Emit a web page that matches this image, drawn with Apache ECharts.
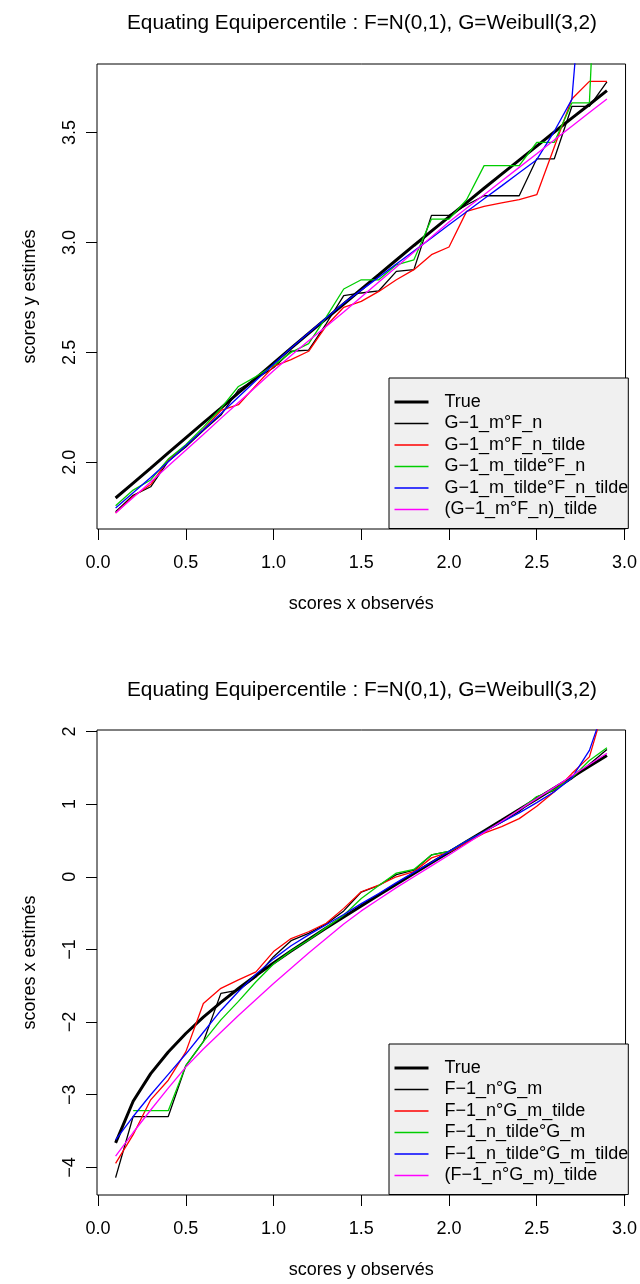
<!DOCTYPE html>
<html>
<head>
<meta charset="utf-8">
<script src="https://cdn.jsdelivr.net/npm/echarts@6/dist/echarts.min.js"></script>
<style>
  html, body { margin: 0; padding: 0; background: #ffffff; }
  #chart { width: 640px; height: 1284px; }
</style>
</head>
<body>
<div id="chart"></div>
<script>
const FONT = '"Liberation Sans", Arial, Helvetica, sans-serif';

// Observed scores (x positions of every curve in both panels)
const xScores = [0.1, 0.2, 0.3, 0.4, 0.5, 0.6, 0.7, 0.8, 0.9, 1.0,
                 1.1, 1.2, 1.3, 1.4, 1.5, 1.6, 1.7, 1.8, 1.9, 2.0,
                 2.1, 2.2, 2.3, 2.4, 2.5, 2.6, 2.7, 2.8, 2.9];

// Tick labels
const xTicks = [0, 0.5, 1, 1.5, 2, 2.5, 3];
const topYTicks = [2, 2.5, 3, 3.5];
const bottomYTicks = [-4, -3, -2, -1, 0, 1, 2];

// Panel 1: estimated y scores
const topTrue = [1.838, 1.906, 1.974, 2.043, 2.111, 2.179, 2.247, 2.316, 2.383, 2.451,
                 2.519, 2.586, 2.653, 2.720, 2.787, 2.853, 2.920, 2.986, 3.051, 3.116,
                 3.181, 3.246, 3.310, 3.374, 3.438, 3.502, 3.565, 3.627, 3.690];
const topGmFn = [1.775, 1.850, 1.889, 2.005, 2.070, 2.145, 2.215, 2.330, 2.380, 2.430,
                 2.505, 2.510, 2.630, 2.758, 2.770, 2.780, 2.868, 2.876, 3.123, 3.123,
                 3.170, 3.212, 3.212, 3.212, 3.380, 3.380, 3.618, 3.618, 3.730];
const topGmFnTilde = [1.770, 1.845, 1.899, 2.012, 2.075, 2.150, 2.236, 2.262, 2.350, 2.436,
                      2.467, 2.505, 2.620, 2.705, 2.732, 2.777, 2.830, 2.876, 2.944, 2.979,
                      3.141, 3.164, 3.180, 3.194, 3.217, 3.434, 3.652, 3.732, 3.732];
const topGmTildeFn = [1.803, 1.874, 1.920, 2.015, 2.080, 2.160, 2.245, 2.345, 2.390, 2.440,
                      2.500, 2.540, 2.660, 2.788, 2.830, 2.830, 2.898, 2.921, 3.106, 3.106,
                      3.194, 3.349, 3.349, 3.349, 3.455, 3.455, 3.634, 3.634, 5.400];
const topGmTildeFnTilde = [1.793, 1.862, 1.931, 2.003, 2.075, 2.148, 2.222, 2.297, 2.372, 2.446,
                           2.520, 2.588, 2.656, 2.724, 2.783, 2.842, 2.902, 2.961, 3.020, 3.080,
                           3.139, 3.198, 3.257, 3.317, 3.376, 3.505, 3.650, 4.600, 5.500];
const topSmoothed = [1.770, 1.840, 1.911, 1.983, 2.055, 2.127, 2.200, 2.272, 2.344, 2.416,
                     2.486, 2.553, 2.618, 2.684, 2.752, 2.820, 2.888, 2.956, 3.025, 3.093,
                     3.155, 3.217, 3.279, 3.341, 3.403, 3.466, 3.528, 3.590, 3.652];

// Panel 2: estimated x scores
const botTrue = [-3.662, -3.090, -2.710, -2.411, -2.157, -1.933, -1.728, -1.538, -1.359, -1.188,
                 -1.022, -0.862, -0.706, -0.553, -0.401, -0.252, -0.103, 0.044, 0.192, 0.337,
                 0.484, 0.631, 0.777, 0.925, 1.072, 1.221, 1.370, 1.520, 1.670];
const botFnGm = [-4.14, -3.30, -3.30, -3.30, -2.60, -2.27, -1.605, -1.56, -1.38, -1.10,
                 -0.88, -0.78, -0.65, -0.47, -0.21, -0.12, 0.03, 0.09, 0.30, 0.35,
                 0.48, 0.62, 0.75, 0.90, 1.10, 1.19, 1.35, 1.55, 1.75];
const botFnGmTilde = [-3.945, -3.55, -3.07, -2.80, -2.41, -1.743, -1.536, -1.42, -1.31, -1.03,
                      -0.85, -0.757, -0.64, -0.435, -0.206, -0.114, 0.0, 0.07, 0.26, 0.34,
                      0.47, 0.60, 0.69, 0.80, 0.97, 1.17, 1.42, 1.65, 2.47];
const botFnTildeGm = [null, -3.22, -3.22, -3.22, -2.60, -2.27, -1.97, -1.715, -1.445, -1.20,
                      -1.02, -0.87, -0.70, -0.53, -0.30, -0.12, 0.05, 0.10, 0.30, 0.35,
                      0.49, 0.62, 0.76, 0.92, 1.10, 1.20, 1.36, 1.60, 1.776];
const botFnTildeGmTilde = [-3.62, -3.30, -3.00, -2.72, -2.44, -2.14, -1.84, -1.58, -1.34, -1.13,
                           -0.95, -0.80, -0.66, -0.52, -0.37, -0.23, -0.08, 0.06, 0.20, 0.35,
                           0.49, 0.62, 0.75, 0.88, 1.02, 1.17, 1.36, 1.74, 2.44];
const botSmoothed = [-3.845, -3.52, -3.21, -2.91, -2.62, -2.37, -2.14, -1.91, -1.69, -1.47,
                     -1.26, -1.05, -0.85, -0.65, -0.47, -0.31, -0.15, 0.0, 0.15, 0.30,
                     0.455, 0.61, 0.765, 0.92, 1.075, 1.23, 1.39, 1.545, 1.70];

const TITLE = 'Equating Equipercentile : F=N(0,1), G=Weibull(3,2)';
const topNames = ['True', 'G\u22121_m\u00b0F_n', 'G\u22121_m\u00b0F_n_tilde', 'G\u22121_m_tilde\u00b0F_n',
                  'G\u22121_m_tilde\u00b0F_n_tilde', '(G\u22121_m\u00b0F_n)_tilde'];
const botNames = ['True', 'F\u22121_n\u00b0G_m', 'F\u22121_n\u00b0G_m_tilde', 'F\u22121_n_tilde\u00b0G_m',
                  'F\u22121_n_tilde\u00b0G_m_tilde', '(F\u22121_n\u00b0G_m)_tilde'];
const colors = ['#000000', '#000000', '#ff0000', '#00cd00', '#0000ff', '#ff00ff'];
const widths = [3, 1.3, 1.3, 1.3, 1.3, 1.3];

const textBase = { fontFamily: FONT, fontSize: 18, color: '#000' };

function pairs(ys) {
  return xScores.map((x, i) => [x, ys[i] === null ? '-' : ys[i]]);
}

function makeX(idx, name) {
  return {
    type: 'value', gridIndex: idx, min: -0.006, max: 3.006,
    name: name, nameLocation: 'middle', nameGap: 66,
    nameTextStyle: Object.assign({}, textBase),
    axisLine: { show: false, onZero: false },
    axisTick: { show: true, inside: false, length: 11, customValues: xTicks,
                lineStyle: { color: '#000', width: 1 } },
    axisLabel: Object.assign({ customValues: xTicks, margin: 25,
                formatter: v => v.toFixed(1) }, textBase),
    splitLine: { show: false }
  };
}

function makeY(idx, name, min, max, ticks, fmt) {
  return {
    type: 'value', gridIndex: idx, min: min, max: max,
    name: name, nameLocation: 'middle', nameGap: 58, nameRotate: 90,
    nameTextStyle: Object.assign({}, textBase),
    axisLine: { show: false, onZero: false },
    axisTick: { show: true, inside: false, length: 11, customValues: ticks,
                lineStyle: { color: '#000', width: 1 } },
    axisLabel: Object.assign({ customValues: ticks, margin: 18, rotate: 90,
                formatter: fmt }, textBase),
    splitLine: { show: false }
  };
}

function makeSeries(idx, names, arrays) {
  return arrays.map((ys, k) => ({
    type: 'line', name: names[k], xAxisIndex: idx, yAxisIndex: idx,
    data: pairs(ys), symbol: 'none', showSymbol: false, connectNulls: false,
    clip: true, silent: true, animation: false,
    lineStyle: { color: colors[k], width: widths[k] },
    itemStyle: { color: colors[k] },
    z: 2 + k * 0.01
  }));
}

function makeLegend(top, names) {
  return {
    orient: 'vertical', left: 389, top: top,
    padding: [15, 0, 10, 4],
    itemWidth: 34, itemHeight: 14, itemGap: 3.5,
    backgroundColor: '#f0f0f0', borderColor: '#000', borderWidth: 1, borderRadius: 0,
    selectedMode: false,
    // plain line keys: hide the marker that line legends add in the middle
    itemStyle: { opacity: 0, borderWidth: 0 },
    textStyle: Object.assign({ lineHeight: 18, padding: [0, 0, 0, 11] }, textBase),
    data: names.map((n, k) => ({ name: n, lineStyle: { width: widths[k], color: colors[k] } }))
  };
}

const chart = echarts.init(document.getElementById('chart'), null, { renderer: 'canvas' });

const titleStyle = { fontFamily: FONT, fontSize: 20.8, fontWeight: 'normal', color: '#000' };

chart.setOption({
  animation: false,
  backgroundColor: '#ffffff',
  title: [
    { text: TITLE, left: 357, top: 8, textAlign: 'center', textStyle: titleStyle },
    { text: TITLE, left: 357, top: 675, textAlign: 'center', textStyle: titleStyle }
  ],
  grid: [
    { left: 97, top: 64, width: 530, height: 465, show: true, borderColor: '#000', borderWidth: 1,
      backgroundColor: 'transparent', containLabel: false },
    { left: 97, top: 730, width: 530, height: 465, show: true, borderColor: '#000', borderWidth: 1,
      backgroundColor: 'transparent', containLabel: false }
  ],
  xAxis: [
    makeX(0, 'scores x observ\u00e9s'),
    makeX(1, 'scores y observ\u00e9s')
  ],
  yAxis: [
    makeY(0, 'scores y estim\u00e9s', 1.697, 3.811, topYTicks, v => v.toFixed(1)),
    makeY(1, 'scores x estim\u00e9s', -4.38, 2.02, bottomYTicks, v => String(v).replace('-', '\u2212'))
  ],
  legend: [
    makeLegend(378, topNames),
    makeLegend(1044, botNames)
  ],
  series: makeSeries(0, topNames,
            [topTrue, topGmFn, topGmFnTilde, topGmTildeFn, topGmTildeFnTilde, topSmoothed])
    .concat(makeSeries(1, botNames,
            [botTrue, botFnGm, botFnGmTilde, botFnTildeGm, botFnTildeGmTilde, botSmoothed]))
});
</script>
</body>
</html>
